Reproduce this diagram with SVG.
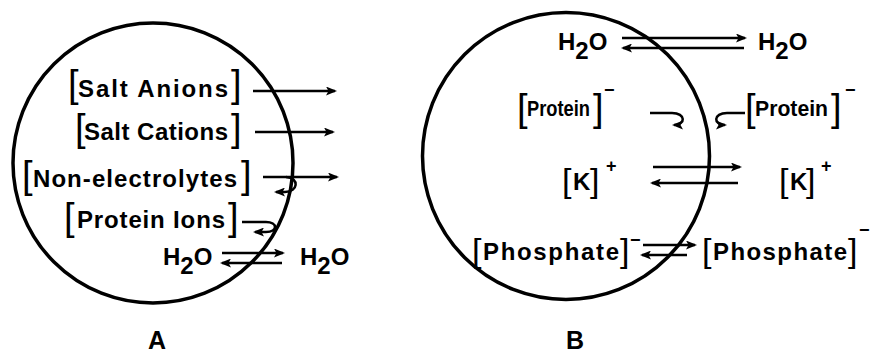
<svg xmlns="http://www.w3.org/2000/svg" width="875" height="356" viewBox="0 0 875 356">
<style>
text{font-family:"Liberation Sans",Arial,sans-serif;font-weight:bold;fill:#000}
.t{font-size:24px}
.tp{font-size:22px}
.br{font-size:38px;font-weight:normal}
.brs{font-size:34px;font-weight:normal}
.sup{font-size:18px}
.lab{font-size:25px}
.cell{fill:none;stroke:#000;stroke-width:3.5}
.ar{fill:none;stroke:#000;stroke-width:2.5;marker-end:url(#ah)}
</style>
<defs>
<marker id="ah" markerWidth="11" markerHeight="9" refX="9" refY="4.5" orient="auto" markerUnits="userSpaceOnUse">
<path d="M0,0 L11,4.5 L0,9 L2.5,4.5 z" fill="#000"/>
</marker>
</defs>
<g id="cellA">
<circle class="cell" cx="153" cy="163" r="140"/>
</g>
<g id="cellB">
<circle class="cell" cx="566" cy="156" r="143.5"/>
</g>
<g id="saltAnions">
<text class="br" x="68" y="97">[</text>
<text class="t" x="78" y="97" textLength="150" lengthAdjust="spacing">Salt Anions</text>
<text class="br" x="231" y="97">]</text>
</g>
<g id="saltCations">
<text class="br" x="75" y="141">[</text>
<text class="t" x="84" y="140" textLength="144" lengthAdjust="spacing">Salt Cations</text>
<text class="br" x="231" y="141">]</text>
</g>
<g id="nonElectrolytes">
<text class="br" x="22" y="188">[</text>
<text class="t" x="33" y="187" textLength="204" lengthAdjust="spacing">Non-electrolytes</text>
<text class="br" x="241" y="188">]</text>
</g>
<g id="proteinIons">
<text class="br" x="64" y="230">[</text>
<text class="t" x="77" y="228" textLength="148" lengthAdjust="spacing">Protein Ions</text>
<text class="br" x="228" y="230">]</text>
</g>
<g id="h2oAin">
<text class="t" x="163" y="265">H<tspan dy="9">2</tspan><tspan dy="-9">O</tspan></text>
</g>
<g id="h2oAout">
<text class="t" x="300" y="265">H<tspan dy="9">2</tspan><tspan dy="-9">O</tspan></text>
</g>
<g id="labelA">
<text class="lab" x="157" y="349" text-anchor="middle">A</text>
</g>
<g id="h2oBin">
<text class="t" x="558" y="50">H<tspan dy="9">2</tspan><tspan dy="-9">O</tspan></text>
</g>
<g id="h2oBout">
<text class="t" x="758" y="50">H<tspan dy="9">2</tspan><tspan dy="-9">O</tspan></text>
</g>
<g id="proteinBin">
<text class="br" x="517" y="121">[</text>
<text class="tp" x="527" y="116" textLength="63" lengthAdjust="spacingAndGlyphs">Protein</text>
<text class="br" x="593" y="121">]</text>
<text class="sup" x="604" y="96">−</text>
</g>
<g id="proteinBout">
<text class="br" x="745" y="121">[</text>
<text class="tp" x="755" y="116" textLength="73" lengthAdjust="spacingAndGlyphs">Protein</text>
<text class="br" x="831" y="121">]</text>
<text class="sup" x="845" y="96">−</text>
</g>
<g id="kBin">
<text class="brs" x="562" y="192">[</text>
<text class="t" x="573" y="190">K</text>
<text class="brs" x="590" y="192">]</text>
<text class="sup" x="606" y="172">+</text>
</g>
<g id="kBout">
<text class="brs" x="779" y="192">[</text>
<text class="t" x="790" y="190">K</text>
<text class="brs" x="806" y="192">]</text>
<text class="sup" x="821" y="172">+</text>
</g>
<g id="phosphateBin">
<text class="brs" x="472" y="262">[</text>
<text class="t" x="483" y="260" textLength="136" lengthAdjust="spacing">Phosphate</text>
<text class="brs" x="620" y="262">]</text>
<text class="sup" x="630" y="246">−</text>
</g>
<g id="phosphateBout">
<text class="brs" x="702" y="262">[</text>
<text class="t" x="713" y="260" textLength="134" lengthAdjust="spacing">Phosphate</text>
<text class="brs" x="848" y="262">]</text>
<text class="sup" x="859" y="236">−</text>
</g>
<g id="labelB">
<text class="lab" x="575" y="349" text-anchor="middle">B</text>
</g>
<g id="connectors">
<path class="ar" d="M253,91 L335,91"/>
<path class="ar" d="M255,132 L333,132"/>
<path class="ar" d="M263,177 L337,177"/>
<path class="ar" d="M286,177 C300,178 298,192 285,192 L276,192"/>
<path class="ar" d="M242,222 L266,222 C278,222 278,232 266,232 L255,232"/>
<path class="ar" d="M222,253 L283,253"/>
<path class="ar" d="M282,263 L222,263"/>
<path class="ar" d="M622,38 L745,38"/>
<path class="ar" d="M744,48 L623,48"/>
<path class="ar" d="M650,113 L672,113 C686,113 686,125 674,125"/>
<path class="ar" d="M745,113 L727,113 C713,113 713,125 725,125"/>
<path class="ar" d="M653,167 L740,167"/>
<path class="ar" d="M738,183 L652,183"/>
<path class="ar" d="M643,245 L695,245"/>
<path class="ar" d="M687,255 L642,255"/>
</g>
</svg>
